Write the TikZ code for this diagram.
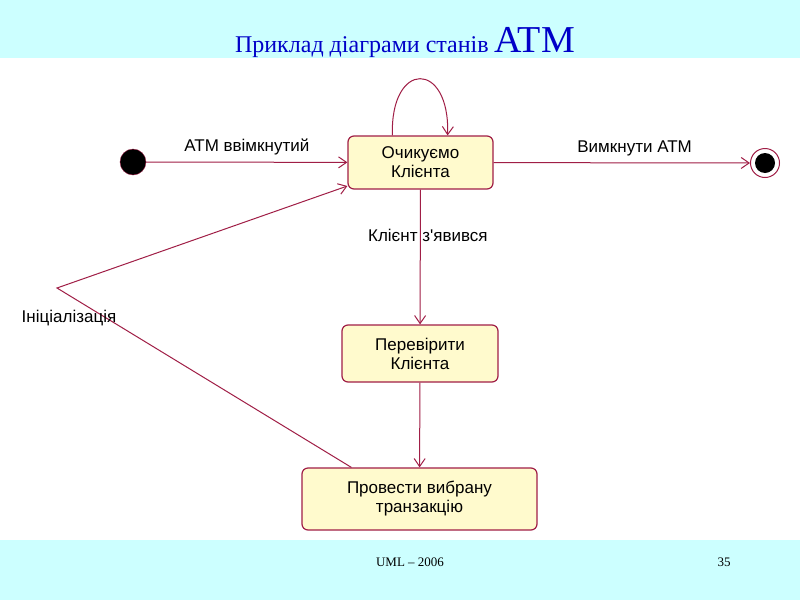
\documentclass[tikz,border=0pt]{standalone}
\usepackage{fontspec}
\setmainfont{Liberation Serif}
\newfontfamily\lsans{Liberation Sans}
\usetikzlibrary{arrows.meta}
\definecolor{ln}{RGB}{160,30,70}
\definecolor{st}{RGB}{255,250,205}
\definecolor{band}{RGB}{204,255,255}
\definecolor{ttl}{RGB}{0,0,200}
\begin{document}
\begin{tikzpicture}[x=1pt,y=-1pt,
  state/.style={draw=ln,fill=st,rounded corners=6pt,line width=1.2pt,font=\lsans\fontsize{17}{19}\selectfont,align=center,inner sep=0},
  tr/.style={draw=ln,line width=1pt,-{Straight Barb[length=8pt,width=11pt]}},
  lbl/.style={font=\lsans\fontsize{17}{19}\selectfont,text=black}]
\fill[white] (0,0) rectangle (800,600);
\fill[band] (0,0) rectangle (800,58);
\fill[band] (0,540) rectangle (800,600);
\node[text=ttl,font=\fontsize{24}{28}\selectfont,anchor=base] (title) at (405,52) {Приклад діаграми станів \fontsize{38}{40}\selectfont ATM};
\node[font=\fontsize{13}{15}\selectfont] (f1) at (410,562) {UML – 2006};
\node[font=\fontsize{13}{15}\selectfont] (f2) at (724,562) {35};

\node[state,minimum width=145pt,minimum height=53pt] (A) at (420.5,162.5) {Очикуємо\\Клієнта};
\node[state,minimum width=156pt,minimum height=57pt] (B) at (420,353.5) {Перевірити\\Клієнта};
\node[state,minimum width=235pt,minimum height=62pt] (C) at (419.5,499) {Провести вибрану\\транзакцію};
\node[circle,fill=black,draw=ln,minimum size=26pt,inner sep=0] (I) at (133,162) {};
\node[circle,draw=ln,line width=1pt,minimum size=29pt,inner sep=0] (F) at (765,163) {};
\node[circle,fill=black,minimum size=20pt,inner sep=0] (Fi) at (765,163) {};
\coordinate (K) at (57,288);

\draw[tr] (I) -- (A) node[lbl,pos=0.5,above=3pt] (l1) {ATM ввімкнутий};
\draw[tr] (A) -- (F) node[lbl,pos=0.55,above=3pt] (l2) {Вимкнути ATM};
\draw[tr] (A) -- (B) node[lbl,pos=0.34,right=-56pt] (l3) {Клієнт з'явився};
\draw[tr] (B) -- (C);
\draw[tr] (C.north west) ++(50,0) -- (K) -- (A.south west|-0,186);
\node[lbl] (l4) at (69,318) {Ініціалізація};
\draw[tr] (A.north west) ++(45,0) .. controls (390,60) and (450,60) .. ([xshift=-46pt]A.north east);
\end{tikzpicture}
\end{document}
